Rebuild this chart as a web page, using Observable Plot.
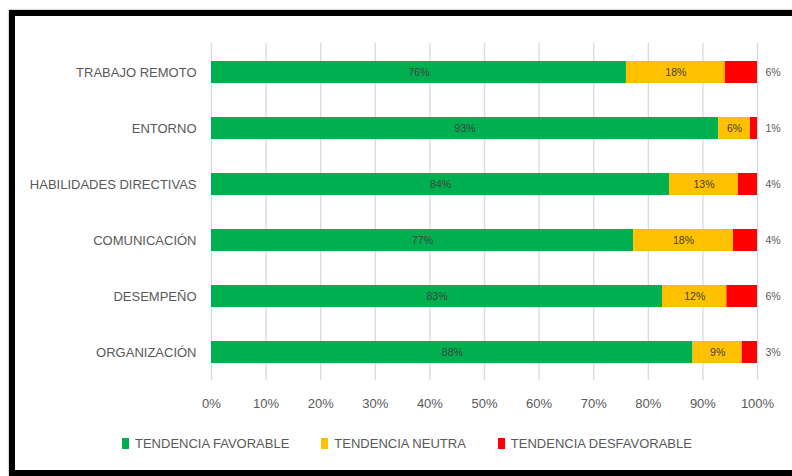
<!DOCTYPE html>
<html>
<head>
<meta charset="utf-8">
<script src="https://cdn.jsdelivr.net/npm/d3@7"></script>
<script src="https://cdn.jsdelivr.net/npm/@observablehq/plot@0.6"></script>
<style>
  html, body { margin: 0; padding: 0; background: #fff; }
  #wrap { position: relative; width: 792px; height: 476px; overflow: hidden; font-family: "Liberation Sans", Arial, sans-serif; }
  #frame { position: absolute; left: 9px; top: 10px; width: 800px; height: 466px; box-sizing: border-box; border: 6px solid #000; box-shadow: 0 0 2px #888; pointer-events: none; }
  #legend { position: absolute; left: 122px; top: 436px; display: flex; align-items: center; gap: 32px; font-size: 13px; color: #595959; }
  .item { display: flex; align-items: center; gap: 6px; }
  .sw { width: 7px; height: 11px; }
</style>
</head>
<body>
<div id="wrap"><div id="chart"></div><div id="legend"></div><div id="frame"></div></div>
<script>
const categories = ["TRABAJO REMOTO", "ENTORNO", "HABILIDADES DIRECTIVAS", "COMUNICACIÓN", "DESEMPEÑO", "ORGANIZACIÓN"];
const series = ["TENDENCIA FAVORABLE", "TENDENCIA NEUTRA", "TENDENCIA DESFAVORABLE"];
const favorable    = [76.0, 92.9, 83.9, 77.3, 82.6, 88.2];
const neutra       = [18.1,  5.8, 12.6, 18.3, 11.8,  9.0];
const desfavorable = [ 5.9,  1.3,  3.5,  4.4,  5.6,  2.8];
const colors = ["#00B050", "#FFC000", "#FF0000"];
const xTicks = [0, 10, 20, 30, 40, 50, 60, 70, 80, 90, 100];

const seriesValues = [favorable, neutra, desfavorable];
const data = [];
categories.forEach((cat, i) => {
  series.forEach((s, j) => data.push({cat, series: s, value: seriesValues[j][i]}));
});
const pct = v => Math.round(v) + "%";

const chart = Plot.plot({
  width: 792,
  height: 476,
  marginLeft: 211,
  marginRight: 35,
  marginTop: 43,
  marginBottom: 96,
  style: {fontFamily: "'Liberation Sans', Arial, sans-serif", background: "transparent"},
  x: {domain: [0, 100], label: null},
  y: {domain: categories, paddingInner: 0.61, paddingOuter: 0.305, label: null},
  color: {domain: series, range: colors},
  marks: [
    Plot.gridX(xTicks, {stroke: "#d9d9d9", strokeOpacity: 1, strokeWidth: 1.3}),
    Plot.axisX({ticks: xTicks, tickFormat: d => d + "%", tickSize: 0, tickPadding: 18, fontSize: 13, color: "#595959", label: null}),
    Plot.axisY({tickSize: 0, tickPadding: 15, fontSize: 13, color: "#595959", label: null}),
    Plot.barX(data, Plot.stackX({x: "value", y: "cat", fill: "series", order: series})),
    Plot.text(data, Plot.stackX({x: "value", y: "cat", z: "series", order: series,
      text: d => d.series === series[2] ? null : pct(d.value), fill: "#404040", fontSize: 10.5})),
    Plot.text(data, Plot.stackX2({x: "value", y: "cat", z: "series", order: series,
      text: d => d.series === series[2] ? pct(d.value) : null, fill: "#595959", fontSize: 10.5, dx: 8, textAnchor: "start"}))
  ]
});
document.getElementById("chart").appendChild(chart);

const legend = d3.select("#legend");
series.forEach((s, j) => {
  const it = legend.append("div").attr("class", "item");
  it.append("div").attr("class", "sw").style("background", colors[j]);
  it.append("span").text(s);
});
</script>
</body>
</html>
